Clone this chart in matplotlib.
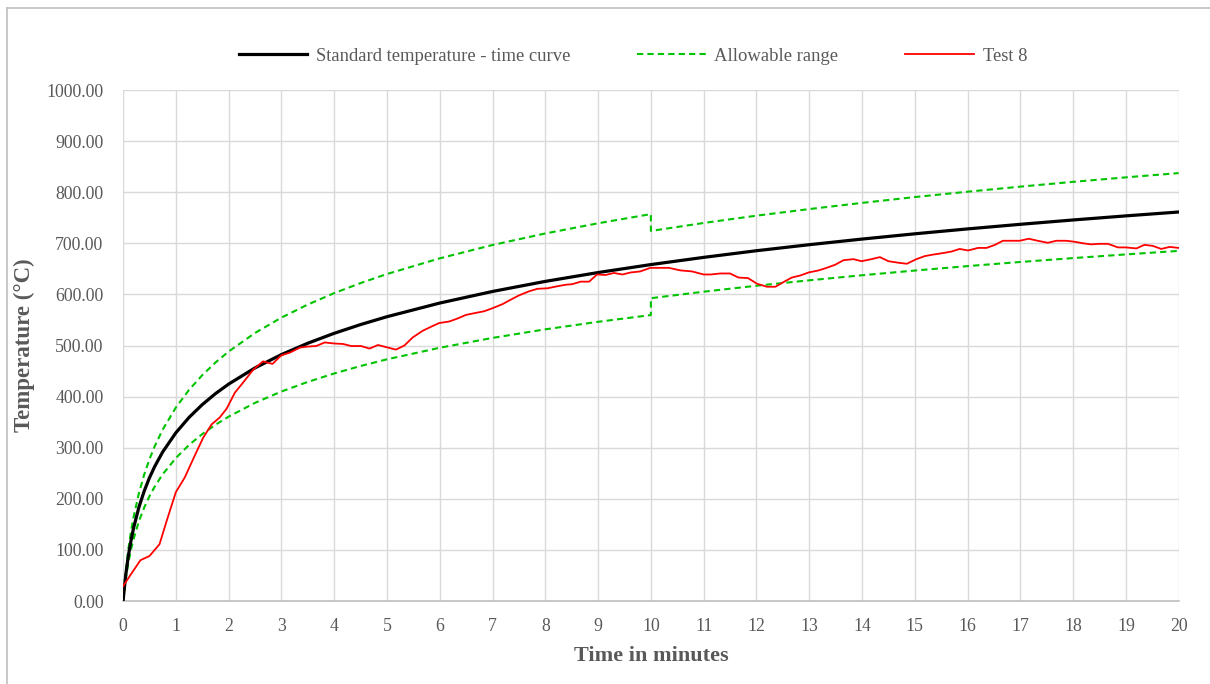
import matplotlib.pyplot as plt
from matplotlib.ticker import MultipleLocator, FormatStrFormatter
from matplotlib.lines import Line2D

plt.rcParams['font.family'] = ['Liberation Serif', 'DejaVu Serif']

# standard fire curve, read at selected times (min)
std_t = [0, 0.05, 0.1, 0.15, 0.2, 0.3, 0.4, 0.5, 0.6, 0.75, 1, 1.25, 1.5, 1.75, 2, 2.5, 3, 3.5, 4,
         4.5, 5, 6, 7, 8, 9, 10, 11, 12, 13, 14, 15, 16, 17, 18, 19, 20]
std_T = [0, 50.4, 88.1, 118.1, 143.2, 183.4, 215.0, 241.2, 263.4, 291.6, 329.2, 359.3, 384.3, 405.8,
         424.5, 456.2, 482.3, 504.5, 523.9, 541.0, 556.4, 583.1, 605.8, 625.5, 642.8, 658.4, 672.5,
         685.5, 697.3, 708.3, 718.6, 728.2, 737.2, 745.7, 753.7, 761.3]

# allowable band (jumps at 10 min)
band_t = [0, 0.05, 0.1, 0.15, 0.2, 0.3, 0.4, 0.5, 0.6, 0.75, 1, 1.25, 1.5, 1.75, 2, 2.5, 3, 3.5, 4,
          4.5, 5, 6, 7, 8, 9, 10, 10, 11, 12, 13, 14, 15, 16, 17, 18, 19, 20]
upper_T = [0, 58.0, 101.3, 135.8, 164.7, 210.9, 247.3, 277.4, 302.9, 335.3, 378.6, 413.2, 441.9,
           466.7, 488.2, 524.6, 554.6, 580.2, 602.5, 622.2, 639.9, 670.6, 696.7, 719.3, 739.2, 757.2,
           724.2, 739.8, 754.1, 767.0, 779.1, 790.5, 801.0, 810.9, 820.3, 829.1, 837.4]
lower_T = [0, 42.8, 74.9, 100.4, 121.7, 155.9, 182.8, 205.0, 223.9, 247.9, 279.8, 305.4, 326.7,
           344.9, 360.8, 387.8, 410.0, 428.8, 445.3, 459.9, 473.0, 495.6, 514.9, 531.7, 546.4, 559.6,
           592.6, 605.3, 617.0, 627.6, 637.5, 646.7, 655.4, 663.5, 671.1, 678.3, 685.2]

# furnace record, test 8
test_t = [0, 0.16, 0.33, 0.5, 0.69, 0.83, 1.0, 1.17, 1.36, 1.52, 1.68, 1.83, 1.96, 2.12, 2.27, 2.46,
          2.65, 2.83, 3.0, 3.16, 3.35, 3.5, 3.66, 3.82, 4.0, 4.17, 4.32, 4.51, 4.67, 4.83, 4.98, 5.17,
          5.33, 5.49, 5.68, 5.84, 5.99, 6.18, 6.34, 6.5, 6.69, 6.84, 7.0, 7.19, 7.35, 7.5, 7.69, 7.85,
          8.04, 8.23, 8.39, 8.51, 8.67, 8.83, 8.98, 9.14, 9.3, 9.46, 9.62, 9.8, 9.99, 10.15, 10.34,
          10.56, 10.78, 11.0, 11.13, 11.32, 11.5, 11.66, 11.84, 12.01, 12.2, 12.36, 12.51, 12.67,
          12.83, 12.99, 13.18, 13.33, 13.49, 13.65, 13.84, 13.99, 14.18, 14.34, 14.5, 14.69, 14.85,
          15.03, 15.19, 15.35, 15.54, 15.7, 15.85, 16.01, 16.2, 16.36, 16.52, 16.67, 16.83, 16.99,
          17.16, 17.33, 17.52, 17.68, 17.87, 18.03, 18.19, 18.34, 18.5, 18.66, 18.85, 19.0, 19.2,
          19.35, 19.51, 19.67, 19.83, 20.0]
test_T = [29, 54, 80, 88, 111, 158, 213, 242, 285, 320, 346, 359, 376, 408, 427, 452, 469, 464, 481,
          486, 496, 498, 499, 506, 504, 503, 499, 499, 494, 501, 497, 492, 500, 516, 529, 537, 544,
          547, 553, 560, 564, 567, 573, 581, 590, 598, 606, 611, 612, 616, 619, 620, 625, 625, 639,
          638, 642, 639, 643, 645, 652, 652, 652, 647, 645, 639, 639, 641, 641, 633, 632, 621, 615,
          615, 624, 633, 637, 643, 647, 652, 658, 667, 669, 665, 669, 673, 665, 662, 660, 669, 675,
          678, 681, 684, 689, 686, 691, 691, 697, 705, 705, 705, 709, 705, 701, 705, 705, 703, 700,
          698, 699, 699, 692, 692, 690, 697, 695, 689, 693, 691]

txt = '#595959'
green = '#00c400'

fig = plt.figure(figsize=(12.1, 6.84), dpi=100)
ax = fig.add_axes([0.1017, 0.1213, 0.8724, 0.7471])

ax.plot(std_t, std_T, color='black', lw=2.3, label='Standard temperature - time curve', zorder=4)
ax.plot(band_t, upper_T, color=green, lw=1.5, ls=(0, (3, 2)), label='Allowable range', zorder=3)
ax.plot(band_t, lower_T, color=green, lw=1.5, ls=(0, (3, 2)), zorder=3)
ax.plot(test_t, test_T, color='#ff0000', lw=1.3, label='Test 8', zorder=5)

ax.set_xlim(0, 20)
ax.set_ylim(0, 1000)
ax.xaxis.set_major_locator(MultipleLocator(1))
ax.yaxis.set_major_locator(MultipleLocator(100))
ax.yaxis.set_major_formatter(FormatStrFormatter('%.2f'))
ax.grid(True, color='#d9d9d9', lw=1.0)
ax.set_axisbelow(True)
for s in ['top', 'right', 'left']:
    ax.spines[s].set_visible(False)
ax.spines['bottom'].set_color('#bfbfbf')
ax.spines['bottom'].set_linewidth(1.2)
ax.tick_params(axis='both', length=0, labelsize=12.8, labelcolor=txt)
ax.tick_params(axis='x', pad=12)
ax.tick_params(axis='y', pad=14)

ax.set_xlabel('Time in minutes', fontsize=16, fontweight='bold', color=txt, labelpad=8)
ax.set_ylabel('Temperature (°C)', fontsize=16.5, fontweight='bold', color=txt, labelpad=8)

fig.legend(loc='center', bbox_to_anchor=(0.523, 1 - 56 / 684), ncol=3, frameon=False,
           fontsize=13.4, labelcolor=txt, handlelength=3.7, columnspacing=3.6, handletextpad=0.45)

# chart frame
fig.add_artist(Line2D([7 / 1210, 7 / 1210], [0, 1 - 8 / 684], color='#bfbfbf', lw=1.2))
fig.add_artist(Line2D([7 / 1210, 1], [1 - 8 / 684, 1 - 8 / 684], color='#bfbfbf', lw=1.2))

plt.savefig('out.png', dpi=100)
